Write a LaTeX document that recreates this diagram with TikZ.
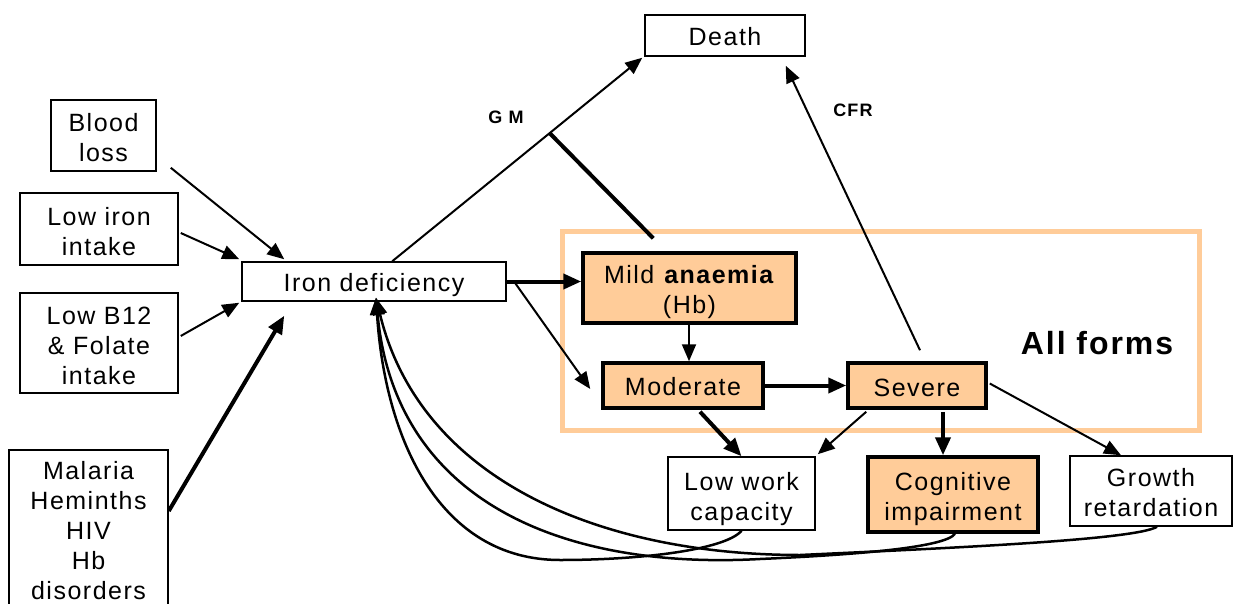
\documentclass[tikz,border=0pt]{standalone}
\usepackage{fontspec}
\setmainfont[LetterSpace=6]{Liberation Sans}
\usetikzlibrary{arrows.meta,calc}
\definecolor{peach}{HTML}{FFCC99}
\begin{document}
\begin{tikzpicture}[x=1pt,y=-1pt,
  box/.style={draw, line width=1.5pt, inner sep=0pt, align=center,
    font=\fontsize{25}{30}\selectfont},
  abox/.style={box, fill=peach, line width=3.5pt},
  dn/.style={execute at begin node={\rule{0pt}{#1}}},
  arr/.style={-{Triangle[length=17pt,width=14pt]}, line width=2pt},
  tarr/.style={-{Triangle[length=18pt,width=15pt]}, line width=4pt},
  tline/.style={line width=4pt},
  lbl/.style={font=\fontsize{18}{20}\selectfont\bfseries},
  back/.style={-{Triangle[length=17pt,width=14pt]}, line width=2.5pt}]
\useasboundingbox (0,0) rectangle (1233,604);
% All forms frame
\draw[peach, line width=5pt] (562,231) rectangle (1199,430);
\node[font=\fontsize{32}{36}\selectfont\bfseries] (allforms) at (1097,343) {All forms};
% nodes
\node[box, dn=20.5pt, minimum width=160pt, minimum height=41pt] (death) at (725,35.5) {Death};
\node[box, dn=53pt, minimum width=105pt, minimum height=71pt] (blood) at (103.5,135.5) {Blood\\loss};
\node[box, dn=54pt, minimum width=158pt, minimum height=72pt] (lowiron) at (99,229) {Low iron\\intake};
\node[box, dn=84pt, minimum width=158pt, minimum height=100pt] (lowb12) at (99,343) {Low B12\\\&~Folate\\intake};
\node[box, minimum width=159pt, minimum height=162pt] (malaria) at (88.5,531) {Malaria\\Heminths\\HIV\\Hb\\disorders};
\node[box, dn=26pt, minimum width=264pt, minimum height=39pt] (irondef) at (374,281.5) {Iron deficiency};
\node[abox, dn=56pt, minimum width=213pt, minimum height=70pt] (mild) at (689.5,288) {Mild \textbf{anaemia}\\(Hb)};
\node[abox, dn=20.5pt, minimum width=160pt, minimum height=45pt] (moderate) at (683,385.5) {Moderate};
\node[abox, dn=22pt, minimum width=138pt, minimum height=45pt] (severe) at (917,385.5) {Severe};
\node[box, dn=59pt, minimum width=147pt, minimum height=73pt] (lowwork) at (741.5,493.5) {Low work\\capacity};
\node[abox, dn=57pt, minimum width=170pt, minimum height=75pt] (cog) at (953,494.5) {Cognitive\\impairment};
\node[box, dn=51pt, minimum width=162pt, minimum height=70pt] (growth) at (1151,491) {Growth\\retardation};
\node[lbl] (gm) at (506,117) {G M};
\node[lbl] (cfr) at (853,110) {CFR};
% inputs to iron deficiency
\draw[arr] ($(blood.south east)+(14,-4)$) -- ($(irondef.north west)+(43,-2)$);
\draw[arr] ($(lowiron.east)+(2,4)$) -- ($(irondef.north west)+(-2,-2)$);
\draw[arr] ($(lowb12.east)+(2,-7)$) -- ($(irondef.south west)+(-2,1)$);
\draw[tarr] ([yshift=20pt]malaria.east) -- ($(irondef.south west)+(43,14)$);
% iron deficiency to death with GM
\draw[arr] ($(irondef.north west)+(151,0)$) -- ($(death.south west)+(-2,1)$);
\coordinate (J) at (550,133.5);
\draw[tline] ($(mild.north west)+(72,-13)$) -- (J);
% severe to death (CFR)
\draw[arr] ($(severe.north)+(3,-11)$) -- ($(death.south east)+(-20,9)$);
% anaemia chain
\draw[tarr] (irondef.east) -- (irondef.east -| mild.west);
\draw[arr] ($(irondef.east)+(8,1)$) -- ($(moderate.west)+(-11,3.5)$);
\draw[arr] (mild.south -| 689,0) -- (moderate.north -| 689,0);
\draw[tarr] (moderate.east) -- (severe.west);
\draw[tarr] ($(moderate.south)+(17,2)$) -- (lowwork.north);
\draw[arr] ($(severe.south west)+(20,2)$) -- ($(lowwork.north east)+(2,-2)$);
\draw[tarr] ($(severe.south)+(26,2)$) -- (cog.north -| 943,0);
\draw[arr] ($(severe.east)+(2,-2)$) -- ($(growth.north)+(-30,0)$);
% feedback curves
\coordinate (T) at ($(irondef.south)+(2,-4)$);
\draw[back] (lowwork.south) .. controls (725,550) and (640,560) .. (560,560)
  .. controls (440,560) and (385,440) .. (T);
\draw[back] ($(cog.south)+(2,0)$) .. controls (945,548) and (850,555) .. (760,559)
  .. controls (560,570) and (395,500) .. (T);
\draw[back] ($(growth.south)+(6,0)$) .. controls (1135,540) and (950,548) .. (800,555)
  .. controls (600,555) and (420,480) .. (T);
\end{tikzpicture}
\end{document}
